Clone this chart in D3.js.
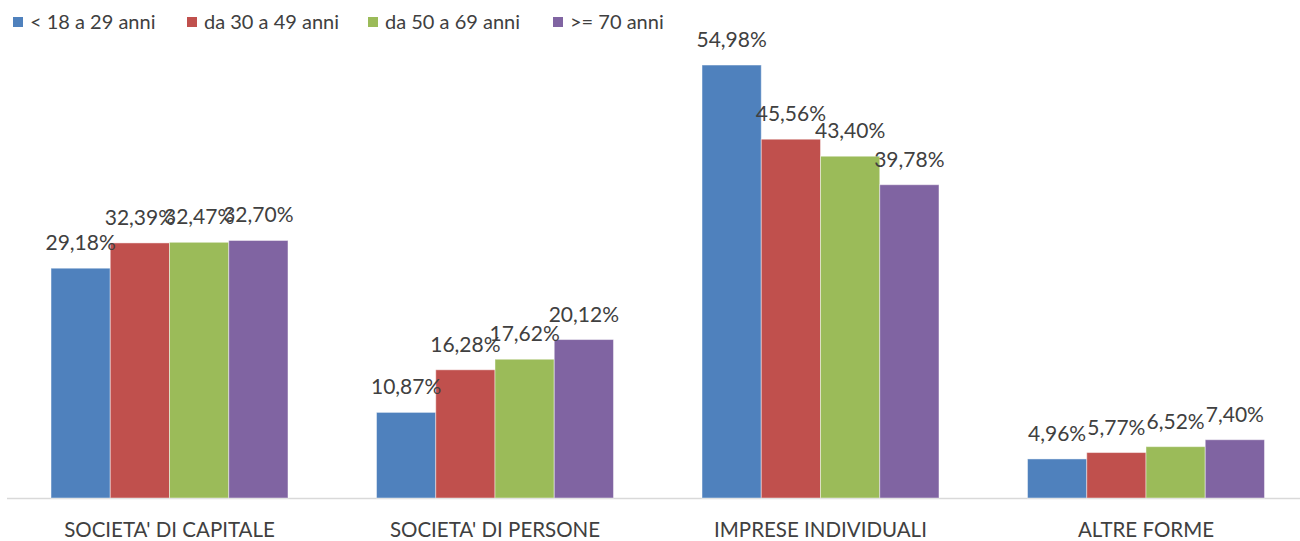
<!DOCTYPE html>
<html>
<head>
<meta charset="utf-8">
<script src="https://d3js.org/d3.v7.min.js"></script>
<style>
	body { margin: 0; background: #fff; }
	text { font-family: Lato, "Open Sans", sans-serif; fill: #404040; }
</style>
</head>
<body>
<svg class="chart"></svg>
<script>
var width = 1300;
var height = 541;

var categorie = ["SOCIETA' DI CAPITALE", "SOCIETA' DI PERSONE", "IMPRESE INDIVIDUALI", "ALTRE FORME"];
var fasce = ["< 18 a 29 anni", "da 30 a 49 anni", "da 50 a 69 anni", ">= 70 anni"];
var colori = ["#4f81bd", "#c0504d", "#9bbb59", "#8064a2"];

var fascia_18_29 = [29.18, 10.87, 54.98, 4.96];
var fascia_30_49 = [32.39, 16.28, 45.56, 5.77];
var fascia_50_69 = [32.47, 17.62, 43.40, 6.52];
var fascia_70 = [32.70, 20.12, 39.78, 7.40];

var serie = [fascia_18_29, fascia_30_49, fascia_50_69, fascia_70];

var base = 498;

var x = d3.scaleBand()
			.domain(categorie)
			.range([6.75, 1308.75])
			.paddingInner(0.272)
			.paddingOuter(0.136);

var x1 = d3.scaleBand()
			.domain(d3.range(fasce.length))
			.range([0, x.bandwidth()]);

var y = d3.scaleLinear()
			.domain([0, 60])
			.range([base, base - 60 * 7.875]);

var chart = d3.select(".chart")
			.attr("width", width)
			.attr("height", height);

// asse orizzontale
chart.append("line")
		.attr("x1", 7)
		.attr("x2", 1300)
		.attr("y1", base + 0.5)
		.attr("y2", base + 0.5)
		.attr("stroke", "#d9d9d9")
		.attr("stroke-width", 1.5);

var dati = [];
categorie.forEach(function(c, i){
	serie.forEach(function(s, j){
		dati.push({cat: c, s: j, v: s[i]});
	});
});

var g = chart.append("g");

g.selectAll("rect")
	.data(dati)
	.enter().append("rect")
	.attr("x", function(d) { return x(d.cat) + x1(d.s); })
	.attr("y", function(d) { return y(d.v); })
	.attr("width", x1.bandwidth())
	.attr("height", function(d) { return base - y(d.v); })
	.attr("fill", function(d) { return colori[d.s]; })
	.attr("stroke", "#ffffff")
	.attr("stroke-opacity", 0.45)
	.attr("stroke-width", 1);

g.selectAll("text.val")
	.data(dati)
	.enter().append("text")
	.attr("class", "val")
	.attr("x", function(d) { return x(d.cat) + x1(d.s) + x1.bandwidth() / 2; })
	.attr("y", function(d) { return y(d.v) - 18; })
	.attr("text-anchor", "middle")
	.style("font-size", "21px")
	.text(function(d) { return d.v.toFixed(2).replace(".", ",") + "%"; });

// etichette categorie
chart.selectAll("text.cat")
	.data(categorie)
	.enter().append("text")
	.attr("class", "cat")
	.attr("x", function(d) { return x(d) + x.bandwidth() / 2; })
	.attr("y", 537)
	.attr("text-anchor", "middle")
	.style("font-size", "20.5px")
	.text(function(d) { return d; });

// legenda
var leg_x = [13, 187, 368, 553];
var legenda = chart.selectAll("g.leg")
	.data(fasce)
	.enter().append("g")
	.attr("class", "leg")
	.attr("transform", function(d, i) { return "translate(" + leg_x[i] + ",0)"; });

legenda.append("rect")
	.attr("x", 0)
	.attr("y", 17)
	.attr("width", 10)
	.attr("height", 10)
	.attr("fill", function(d, i) { return colori[i]; });

legenda.append("text")
	.attr("x", 17)
	.attr("y", 29)
	.style("font-size", "20px")
	.text(function(d) { return d; });
</script>
</body>
</html>
